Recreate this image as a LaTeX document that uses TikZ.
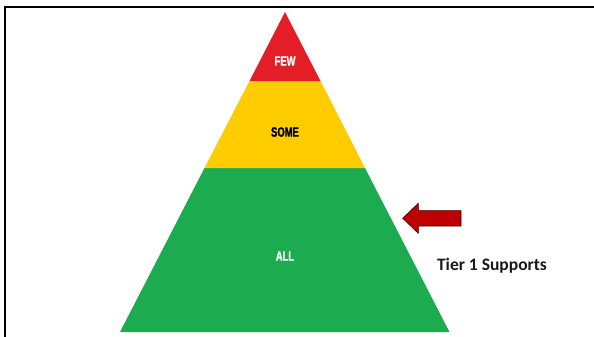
\documentclass[tikz,border=0pt]{standalone}
\usepackage{fontspec}
\setmainfont{Carlito}
\newfontfamily\condfont{Liberation Sans}[UprightFont=*-Bold, FakeStretch=0.70, FakeBold=1.2]
\definecolor{tierred}{HTML}{E31E26}
\definecolor{tieryellow}{HTML}{FFCC00}
\definecolor{tiergreen}{HTML}{1DAB50}
\definecolor{arrowred}{HTML}{C00000}
\definecolor{textdark}{HTML}{1A1A1A}
\tikzset{
  frameline/.style={line width=1.9pt, black},
  layer/.style={draw=none},
  tierlabel/.style={font=\condfont\fontsize{13.5}{14}\selectfont, inner sep=0pt},
  sidelabel/.style={font=\bfseries\fontsize{17.5}{18}\selectfont, text=textdark, inner sep=0pt, anchor=base},
  pointer/.style={fill=arrowred, draw=black!70!arrowred, line width=0.6pt, line join=miter}
}
\begin{document}
\begin{tikzpicture}[x=1pt, y=-1pt]
  \useasboundingbox (0,0) rectangle (594,337);
  \fill[white] (0,0) rectangle (594,337);
  % frame: top and left edges
  \draw[frameline] (5.2,337) -- (5.2,6.7) -- (594,6.7);
  % pyramid corners
  \coordinate (apex) at (285,12);
  \coordinate (bl) at (120,332);
  \coordinate (br) at (449.5,332);
  % layers, bottom to top
  \fill[layer, tiergreen] (204.5,168) -- (365,168) -- (br) -- (bl) -- cycle;
  \fill[layer, tieryellow] (249.5,81) -- (320.5,81) -- (365,168) -- (204.5,168) -- cycle;
  \fill[layer, tierred] (apex) -- (320.5,81) -- (249.5,81) -- cycle;
  % layer names
  \node[tierlabel, text=white] (few) at (285,61) {FEW};
  \node[tierlabel, text=black] (some) at (285,132) {SOME};
  \node[tierlabel, text=white] (all) at (285,256) {ALL};
  % pointer arrow
  \draw[pointer] (402.7,218.3) -- (418.3,203.3) -- (418.3,210.7) -- (461,210.7)
        -- (461,226) -- (418.3,226) -- (418.3,233.3) -- cycle;
  \node[sidelabel] (tier) at (492,270) {Tier 1 Supports};
\end{tikzpicture}
\end{document}
